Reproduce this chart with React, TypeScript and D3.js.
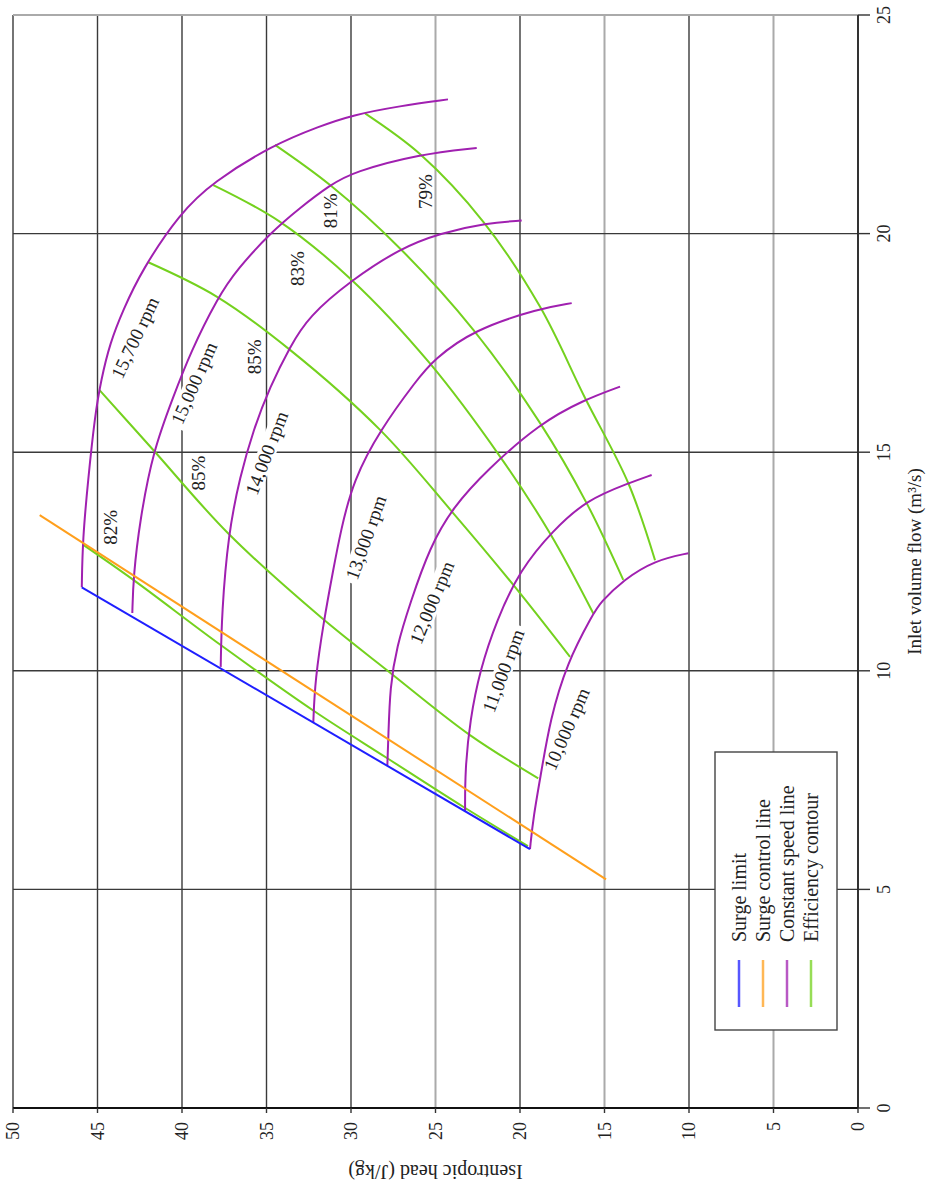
import React from "react";
import * as d3 from "d3";

// ---------- data ----------
const flowTicks = [0, 5, 10, 15, 20, 25];
const headTicks = [0, 5, 10, 15, 20, 25, 30, 35, 40, 45, 50];
const lightHeadTicks = [5, 15, 25];
const lightFlowTicks = [25];

const surgeLimit = [[5.92, 19.41], [11.91, 45.93]];
const surgeControl = [[5.23, 14.91], [13.56, 48.42]];

const speed15700 = [[11.91, 45.93], [12.99, 45.88], [14.36, 45.56], [15.85, 45.15], [16.65, 44.79], [17.5, 44.26], [18.25, 43.49], [19.17, 42.37], [20.47, 40.12], [21.18, 38.17], [22.03, 34.62], [22.46, 31.83], [22.71, 29.94], [22.92, 27.1], [23.07, 24.26]];
const speed15000 = [[11.32, 42.94], [12.15, 42.88], [13.45, 42.49], [15.05, 41.7], [16.27, 40.51], [17.26, 39.53], [18.56, 37.85], [19.17, 36.76], [20.01, 34.79], [20.59, 33.02], [21.11, 31.24], [21.41, 29.88], [21.82, 25.92], [21.96, 22.56]];
const speed14000 = [[10.09, 37.71], [11.31, 37.65], [13.14, 37.26], [14.44, 36.57], [15.51, 35.78], [16.5, 34.79], [17.41, 33.61], [18.1, 32.53], [18.94, 29.96], [19.66, 27.1], [20.01, 24.73], [20.24, 21.97], [20.3, 19.9]];
const speed13000 = [[8.82, 32.23], [9.79, 32.13], [11.16, 31.6], [12.31, 31.05], [13.22, 30.6], [14.36, 29.86], [15.51, 28.28], [16.65, 26.11], [17.11, 25.13], [17.8, 22.76], [18.29, 18.82], [18.41, 16.94]];
const speed12000 = [[7.83, 27.85], [8.49, 27.79], [9.64, 27.69], [10.55, 27.3], [11.54, 26.51], [12.84, 25.33], [13.75, 23.95], [14.59, 21.97], [15.66, 18.82], [16.19, 16.25], [16.5, 14.08]];
const speed11000 = [[6.79, 23.25], [7.73, 23.25], [8.87, 22.96], [10.02, 22.37], [11.16, 21.38], [12.31, 20.0], [13.22, 18.03], [13.91, 16.05], [14.29, 13.59], [14.48, 12.21]];
const speed10000 = [[5.92, 19.41], [6.66, 19.21], [7.73, 18.72], [8.87, 18.22], [10.17, 17.24], [11.31, 15.66], [11.55, 15.27], [12.08, 13.89], [12.53, 12.01], [12.69, 10.04]];

const eff82 = [[12.88, 45.84], [12.08, 42.88], [10.59, 37.71], [9.08, 32.19], [8.0, 27.85], [6.89, 23.36], [5.99, 19.53]];
const eff85a = [[16.42, 44.88], [15.05, 41.7], [13.14, 37.26], [11.24, 31.83], [9.94, 27.63], [8.53, 22.96], [7.54, 18.92]];
const eff85b = [[19.35, 42.03], [18.56, 37.95], [17.34, 33.61], [15.51, 28.28], [13.62, 23.98], [11.92, 20.3], [10.32, 17.04]];
const eff83 = [[21.11, 38.15], [20.27, 34.2], [18.94, 29.96], [17.03, 25.33], [14.9, 21.18], [13.14, 18.22], [11.31, 15.66]];
const eff81 = [[22.03, 34.5], [21.11, 31.24], [19.66, 27.1], [17.8, 22.76], [15.66, 18.8], [13.83, 16.05], [12.08, 13.89]];
const eff79 = [[22.75, 29.17], [21.82, 25.92], [20.27, 22.17], [18.33, 18.82], [16.24, 16.15], [14.29, 13.59], [12.53, 12.01]];

const speedLines = [speed15700, speed15000, speed14000, speed13000, speed12000, speed11000, speed10000];
const effLines = [eff82, eff85a, eff85b, eff83, eff81, eff79];

const speedLabelText = ["15,700 rpm", "15,000 rpm", "14,000 rpm", "13,000 rpm", "12,000 rpm", "11,000 rpm", "10,000 rpm"];
const speedLabelFlow = [17.62, 16.58, 14.98, 13.05, 11.56, 10.0, 8.67];
const speedLabelHead = [42.78, 39.29, 34.99, 29.12, 25.22, 20.99, 17.24];
const speedLabelAngle = [25.2, 23.8, 21, 19.7, 22.6, 20.7, 23.6];

const effLabelText = ["82%", "85%", "85%", "83%", "81%", "79%"];
const effLabelFlow = [13.28, 14.52, 17.18, 19.2, 20.52, 20.96];
const effLabelHead = [44.22, 39.05, 35.7, 33.14, 31.24, 25.6];

const legendLabels = ["Surge limit", "Surge control line", "Constant speed line", "Efficiency contour"];

// ---------- styles ----------
const BLUE = "#1f1fff";
const ORANGE = "#ff9f1c";
const PURPLE = "#a020b0";
const GREEN = "#74d11e";
const legendColors = [BLUE, ORANGE, PURPLE, GREEN];
const FONT = "'Liberation Serif', 'Times New Roman', serif";

const W = 1093;
const H = 845;

export default function App() {
  const x = d3.scaleLinear().domain([0, 25]).range([0, W]);
  const y = d3.scaleLinear().domain([0, 50]).range([H, 0]);
  const smooth = d3
    .line<number[]>()
    .x((d) => x(d[0]))
    .y((d) => y(d[1]))
    .curve(d3.curveBasis);
  const line = d3
    .line<number[]>()
    .x((d) => x(d[0]))
    .y((d) => y(d[1]))
    .curve(d3.curveCatmullRom.alpha(0.5));
  const straight = d3
    .line<number[]>()
    .x((d) => x(d[0]))
    .y((d) => y(d[1]));

  return (
    <svg
      width={928}
      height={1190}
      style={{ position: "absolute", left: 0, top: 0, background: "#fff" }}
      fontFamily={FONT}
    >
      <rect x={0} y={0} width={928} height={1190} fill="#fff" />
      <g transform="translate(13,1108) rotate(-90)">
        {/* grid: constant head */}
        {headTicks.map((h) => {
          const light = lightHeadTicks.includes(h);
          return (
            <line
              key={"h" + h}
              x1={0}
              x2={W}
              y1={y(h)}
              y2={y(h)}
              stroke={light ? "#aaaaaa" : "#3a3a3a"}
              strokeWidth={light ? 2 : 1.4}
            />
          );
        })}
        {/* grid: constant flow */}
        {flowTicks.map((f) => {
          const light = lightFlowTicks.includes(f);
          return (
            <line
              key={"f" + f}
              x1={x(f)}
              x2={x(f)}
              y1={0}
              y2={H}
              stroke={light ? "#aaaaaa" : "#3a3a3a"}
              strokeWidth={light ? 2 : 1.4}
            />
          );
        })}
        {/* axes */}
        <line x1={0} x2={0} y1={0} y2={H} stroke="#111" strokeWidth={2.2} />
        <line x1={0} x2={W} y1={H} y2={H} stroke="#222" strokeWidth={1.6} />
        {flowTicks.map((f) => (
          <g key={"ft" + f}>
            <line x1={x(f)} x2={x(f)} y1={H} y2={H + 12} stroke="#333" strokeWidth={1.4} />
            <text x={x(f)} y={H + 26} textAnchor="middle" dominantBaseline="central" fontSize={18} fill="#222">
              {f}
            </text>
          </g>
        ))}
        {headTicks.map((h) => (
          <g key={"ht" + h}>
            <line x1={0} x2={-5} y1={y(h)} y2={y(h)} stroke="#333" strokeWidth={1.4} />
            <text x={-14} y={y(h)} textAnchor="end" dominantBaseline="central" fontSize={18} fill="#222">
              {h}
            </text>
          </g>
        ))}
        <text x={W / 2} y={H + 56} textAnchor="middle" dominantBaseline="central" fontSize={19} fill="#222">
          Inlet volume flow (m³/s)
        </text>
        <text
          transform={`translate(-64,${H / 2}) rotate(-90)`}
          textAnchor="middle"
          dominantBaseline="central"
          fontSize={20}
          fill="#222"
        >
          Isentropic head (J/kg)
        </text>

        {/* label backgrounds (mask grid) */}
        {speedLabelText.map((t, i) => (
          <rect
            key={"sb" + i}
            transform={`translate(${x(speedLabelFlow[i])},${y(speedLabelHead[i])}) rotate(${speedLabelAngle[i]})`}
            x={-48}
            y={-9}
            width={96}
            height={18}
            fill="#fff"
          />
        ))}
        {effLabelText.map((t, i) => (
          <rect
            key={"eb" + i}
            x={x(effLabelFlow[i]) - 19}
            y={y(effLabelHead[i]) - 8}
            width={38}
            height={16}
            fill="#fff"
          />
        ))}

        {/* curves */}
        {effLines.map((pts, i) => (
          <path key={"e" + i} d={line(pts) || ""} fill="none" stroke={GREEN} strokeWidth={2} />
        ))}
        {speedLines.map((pts, i) => (
          <path key={"s" + i} d={smooth(pts) || ""} fill="none" stroke={PURPLE} strokeWidth={2} />
        ))}
        <path d={straight(surgeControl) || ""} fill="none" stroke={ORANGE} strokeWidth={2} />
        <path d={straight(surgeLimit) || ""} fill="none" stroke={BLUE} strokeWidth={2} />

        {/* labels */}
        {speedLabelText.map((t, i) => (
          <text
            key={"st" + i}
            transform={`translate(${x(speedLabelFlow[i])},${y(speedLabelHead[i])}) rotate(${speedLabelAngle[i]})`}
            textAnchor="middle"
            dominantBaseline="central"
            fontSize={19}
            fill="#222"
          >
            {t}
          </text>
        ))}
        {effLabelText.map((t, i) => (
          <text
            key={"et" + i}
            x={x(effLabelFlow[i])}
            y={y(effLabelHead[i])}
            textAnchor="middle"
            dominantBaseline="central"
            fontSize={19}
            fill="#222"
          >
            {t}
          </text>
        ))}

        {/* legend */}
        <rect x={78} y={702} width={278} height={122} fill="#fff" stroke="#444" strokeWidth={1.4} />
        {legendLabels.map((t, i) => (
          <g key={"lg" + i}>
            <line
              x1={101}
              x2={148}
              y1={726 + i * 24}
              y2={726 + i * 24}
              stroke={legendColors[i]}
              strokeWidth={2.5}
              strokeOpacity={0.75}
            />
            <text x={166} y={726 + i * 24} dominantBaseline="central" fontSize={20} fill="#222">
              {t}
            </text>
          </g>
        ))}
      </g>
    </svg>
  );
}
